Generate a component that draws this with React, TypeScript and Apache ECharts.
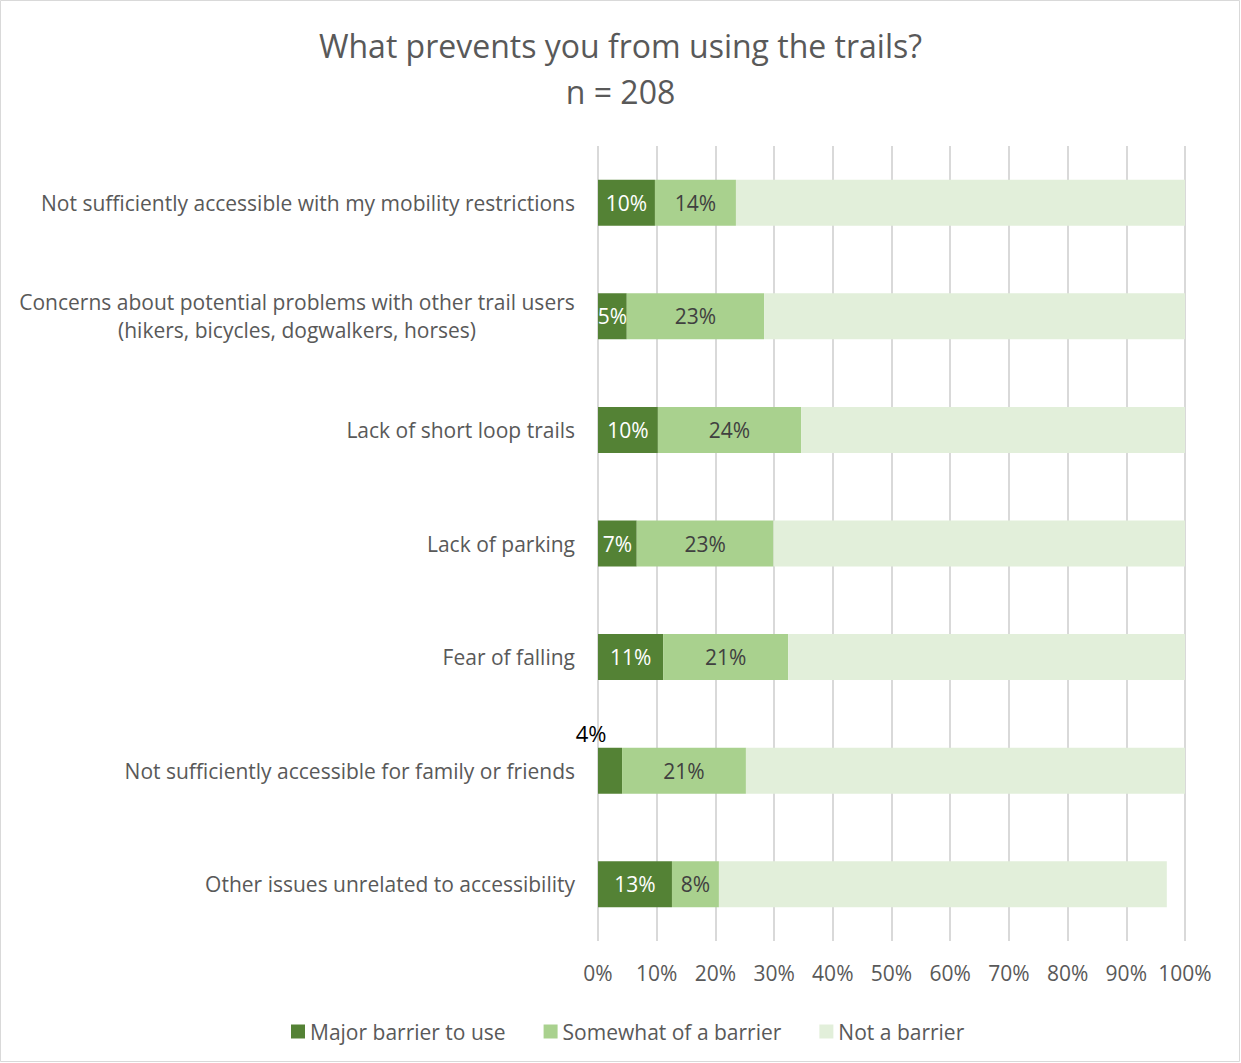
import React, { useEffect, useRef } from "react";
import * as echarts from "echarts";

const categories = [
  "Not sufficiently accessible with my mobility restrictions",
  "Concerns about potential problems with other trail users\n(hikers, bicycles, dogwalkers, horses)",
  "Lack of short loop trails",
  "Lack of parking",
  "Fear of falling",
  "Not sufficiently accessible for family or friends",
  "Other issues unrelated to accessibility",
];
const majorBarrier = [9.7, 4.9, 10.2, 6.6, 11.1, 4.1, 12.6];
const somewhatBarrier = [13.8, 23.4, 24.4, 23.3, 21.3, 21.1, 8.0];
const notBarrier = [76.5, 71.7, 65.4, 70.1, 67.6, 74.8, 76.3];
const seriesNames = ["Major barrier to use", "Somewhat of a barrier", "Not a barrier"];
const xTicks = { min: 0, max: 100, interval: 10 };

const FONT = "Open Sans";
const FS = 21;

export default function App() {
  const ref = useRef<HTMLDivElement>(null);
  useEffect(() => {
    document.body.style.margin = "0";
    const chart = echarts.init(ref.current!, null, { renderer: "svg" });
    const pct = (p: any) => Math.round(p.value) + "%";
    chart.setOption({
      animation: false,
      backgroundColor: "#ffffff",
      textStyle: { fontFamily: FONT },
      title: {
        text: "What prevents you from using the trails?\nn = 208",
        left: "center",
        top: 17,
        textStyle: {
          fontFamily: FONT,
          fontSize: 32,
          fontWeight: "normal",
          color: "#595959",
          lineHeight: 46,
        },
      },
      graphic: [
        {
          type: "rect",
          shape: { x: 0.5, y: 0.5, width: 1239, height: 1061 },
          style: { fill: "none", stroke: "#d9d9d9", lineWidth: 1 },
          silent: true,
        },
      ],
      legend: {
        data: seriesNames,
        left: 286,
        top: 1016,
        itemWidth: 14,
        itemHeight: 14,
        itemGap: 38,
        icon: "rect",
        textStyle: { fontFamily: FONT, fontSize: FS, color: "#595959" },
      },
      grid: { left: 598, right: 56, top: 146, bottom: 122, containLabel: false },
      xAxis: {
        type: "value",
        min: xTicks.min,
        max: xTicks.max,
        interval: xTicks.interval,
        axisLabel: {
          formatter: "{value}%",
          fontFamily: FONT,
          fontSize: FS,
          color: "#595959",
          margin: 21,
        },
        axisLine: { show: false },
        axisTick: { show: false },
        splitLine: { show: true, lineStyle: { color: "#d9d9d9", width: 2 } },
      },
      yAxis: {
        type: "category",
        data: categories,
        inverse: true,
        axisLine: { show: false },
        axisTick: { show: false },
        axisLabel: {
          fontFamily: FONT,
          fontSize: FS,
          color: "#595959",
          margin: 23,
          lineHeight: 28,
          formatter: (v: string) => {
            if (v.indexOf("\n") >= 0) {
              return v
                .split("\n")
                .map((l) => "{c|" + l + "}")
                .join("\n");
            }
            return v;
          },
          rich: {
            c: {
              width: 556,
              align: "center",
              fontFamily: FONT,
              fontSize: FS,
              color: "#595959",
              lineHeight: 28,
            },
          },
        },
      },
      series: [
        {
          name: seriesNames[0],
          type: "bar",
          stack: "total",
          barWidth: 46,
          itemStyle: { color: "#548235" },
          label: {
            show: true,
            position: "inside",
            formatter: pct,
            color: "#ffffff",
            fontFamily: FONT,
            fontSize: FS,
          },
          data: majorBarrier.map((v, i) =>
            i === 5
              ? {
                  value: v,
                  label: {
                    position: "top",
                    color: "#000000",
                    fontSize: 22,
                    offset: [-19, 1],
                  },
                }
              : v
          ),
        },
        {
          name: seriesNames[1],
          type: "bar",
          stack: "total",
          barWidth: 46,
          itemStyle: { color: "#a9d18e" },
          label: {
            show: true,
            position: "inside",
            formatter: pct,
            color: "#404040",
            fontFamily: FONT,
            fontSize: FS,
          },
          data: somewhatBarrier,
        },
        {
          name: seriesNames[2],
          type: "bar",
          stack: "total",
          barWidth: 46,
          itemStyle: { color: "#e2efda" },
          label: { show: false },
          data: notBarrier,
        },
      ],
    });
    return () => chart.dispose();
  }, []);
  return <div ref={ref} style={{ width: 1241, height: 1063 }} />;
}
